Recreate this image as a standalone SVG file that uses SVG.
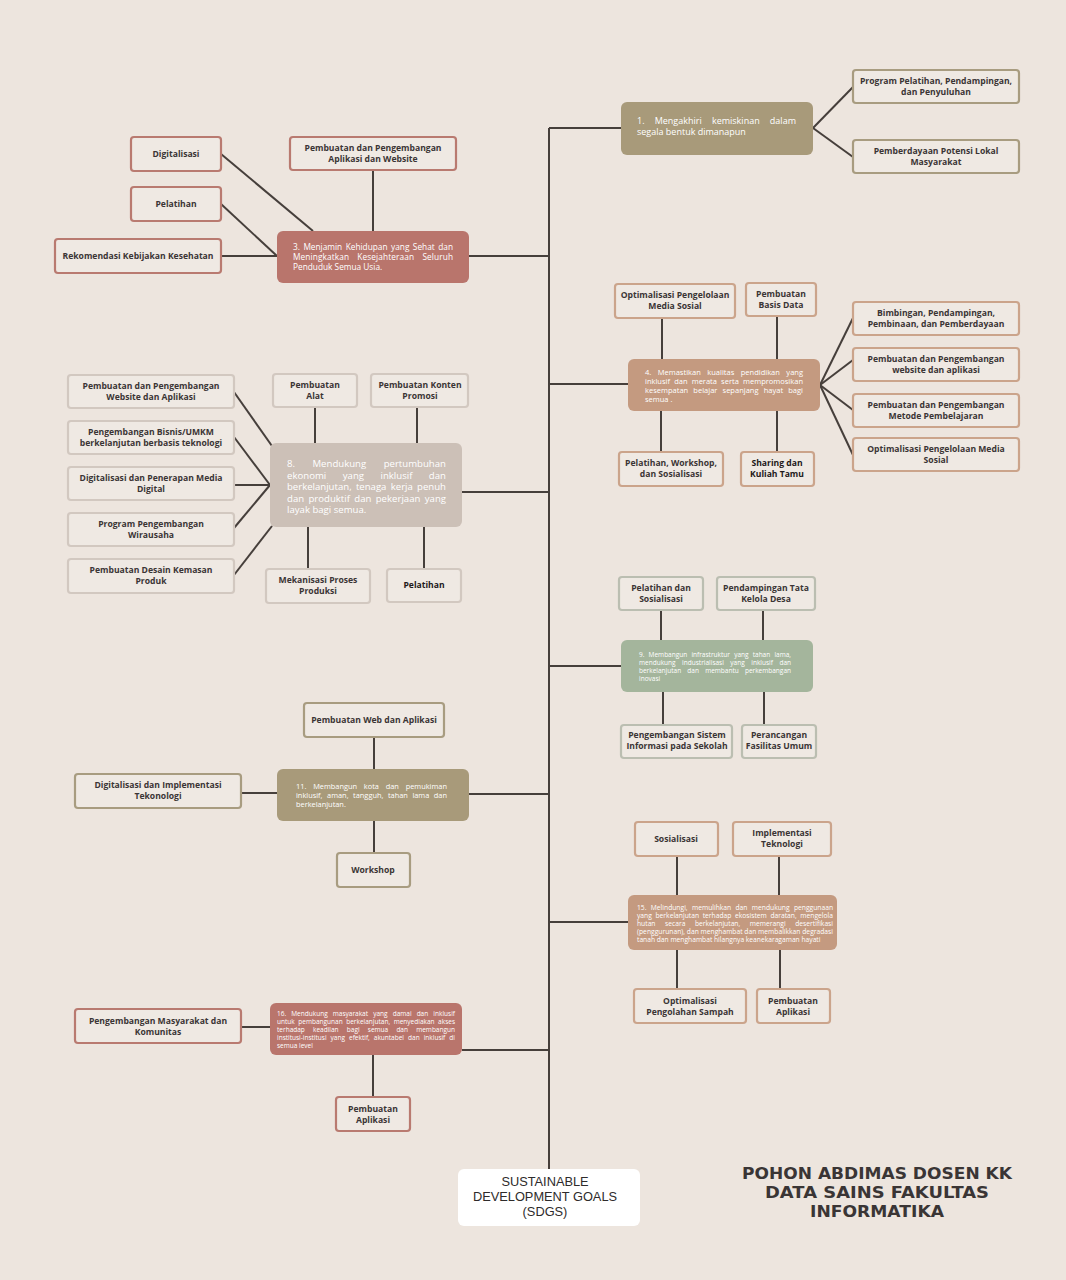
<svg xmlns="http://www.w3.org/2000/svg" width="1066" height="1280" viewBox="0 0 1066 1280">
<style>
.c{fill:#EFE9E3;stroke-width:2.2}
.k1{stroke:#A89C80}.k3{stroke:#B97A70}.k4{stroke:#CBA48B}.k8{stroke:#D2C8C0}.k9{stroke:#BBBEB1}
.ct{font-family:"Open Sans","Liberation Sans",sans-serif;font-weight:700;font-size:8.6px;fill:#3B3535;text-anchor:middle}
.dk{fill:#1E1A1A}
.nt{font-family:"Open Sans","Liberation Sans",sans-serif;fill:#FFFFFF}
.con line{stroke:#463F3B;stroke-width:2;fill:none}
</style>
<rect width="1066" height="1280" fill="#EDE5DE"/>
<g class="con">
<line x1="549" y1="128" x2="549" y2="1170"/>
<line x1="549" y1="128" x2="621" y2="128"/>
<line x1="469" y1="256" x2="549" y2="256"/>
<line x1="549" y1="384" x2="628" y2="384"/>
<line x1="462" y1="492" x2="549" y2="492"/>
<line x1="549" y1="666" x2="621" y2="666"/>
<line x1="469" y1="794" x2="549" y2="794"/>
<line x1="549" y1="922" x2="628" y2="922"/>
<line x1="462" y1="1050" x2="549" y2="1050"/>
<line x1="813" y1="128" x2="853" y2="87"/>
<line x1="813" y1="128" x2="853" y2="157"/>
<line x1="221" y1="154" x2="313" y2="231"/>
<line x1="221" y1="204" x2="277" y2="256"/>
<line x1="221" y1="256" x2="277" y2="256"/>
<line x1="373" y1="170" x2="373" y2="231"/>
<line x1="662" y1="318" x2="662" y2="359"/>
<line x1="777" y1="316" x2="777" y2="359"/>
<line x1="661" y1="411" x2="661" y2="452"/>
<line x1="777" y1="411" x2="777" y2="452"/>
<line x1="820" y1="385" x2="853" y2="318"/>
<line x1="820" y1="385" x2="853" y2="360"/>
<line x1="820" y1="385" x2="853" y2="410"/>
<line x1="820" y1="385" x2="853" y2="455"/>
<line x1="234" y1="392" x2="272" y2="446"/>
<line x1="234" y1="437" x2="270" y2="485"/>
<line x1="234" y1="485" x2="270" y2="485"/>
<line x1="234" y1="528" x2="270" y2="485"/>
<line x1="234" y1="575" x2="272" y2="526"/>
<line x1="315" y1="407" x2="315" y2="443"/>
<line x1="417" y1="407" x2="417" y2="443"/>
<line x1="308" y1="527" x2="308" y2="569"/>
<line x1="424" y1="527" x2="424" y2="569"/>
<line x1="661" y1="610" x2="661" y2="640"/>
<line x1="763" y1="610" x2="763" y2="640"/>
<line x1="663" y1="692" x2="663" y2="725"/>
<line x1="764" y1="692" x2="764" y2="725"/>
<line x1="374" y1="737" x2="374" y2="769"/>
<line x1="241" y1="793" x2="277" y2="793"/>
<line x1="374" y1="821" x2="374" y2="853"/>
<line x1="677" y1="856" x2="677" y2="895"/>
<line x1="779" y1="856" x2="779" y2="895"/>
<line x1="677" y1="950" x2="677" y2="989"/>
<line x1="780" y1="950" x2="780" y2="989"/>
<line x1="241" y1="1027" x2="270" y2="1027"/>
<line x1="373" y1="1055" x2="373" y2="1097"/>
</g>

<!-- Goal 1 -->
<g id="n1">
<rect x="621" y="102" width="192" height="53" rx="6" fill="#A89A7A"/>
<text class="nt" font-size="9"><tspan x="637" y="124" word-spacing="7.8" textLength="159" lengthAdjust="spacing">1. Mengakhiri kemiskinan dalam</tspan><tspan x="637" y="135">segala bentuk dimanapun</tspan></text>
</g>
<g id="n1a"><rect class="c k1" x="853" y="70" width="166" height="33" rx="3"/><text class="ct"><tspan x="936" y="84">Program Pelatihan, Pendampingan,</tspan><tspan x="936" y="95">dan Penyuluhan</tspan></text></g>
<g id="n1b"><rect class="c k1" x="853" y="140" width="166" height="33" rx="3"/><text class="ct"><tspan x="936" y="154">Pemberdayaan Potensi Lokal</tspan><tspan x="936" y="165">Masyarakat</tspan></text></g>

<!-- Goal 3 -->
<g id="n3">
<rect x="277" y="231" width="192" height="52" rx="6" fill="#B9756C"/>
<text class="nt" font-size="8.3"><tspan x="293" y="250" word-spacing="1.3" textLength="160" lengthAdjust="spacing">3. Menjamin Kehidupan yang Sehat dan</tspan><tspan x="293" y="260" word-spacing="5.9" textLength="160" lengthAdjust="spacing">Meningkatkan Kesejahteraan Seluruh</tspan><tspan x="293" y="270">Penduduk Semua Usia.</tspan></text>
</g>
<g id="n3a"><rect class="c k3" x="131" y="137" width="90" height="34" rx="3"/><text class="ct" x="176" y="157">Digitalisasi</text></g>
<g id="n3b"><rect class="c k3" x="131" y="187" width="90" height="34" rx="3"/><text class="ct" x="176" y="207">Pelatihan</text></g>
<g id="n3c"><rect class="c k3" x="55" y="239" width="166" height="34" rx="3"/><text class="ct" x="138" y="259">Rekomendasi Kebijakan Kesehatan</text></g>
<g id="n3d"><rect class="c k3" x="290" y="137" width="166" height="33" rx="3"/><text class="ct"><tspan x="373" y="151">Pembuatan dan Pengembangan</tspan><tspan x="373" y="162">Aplikasi dan Website</tspan></text></g>

<!-- Goal 4 -->
<g id="n4">
<rect x="628" y="359" width="192" height="52" rx="6" fill="#C49A80"/>
<text class="nt" font-size="7.5"><tspan x="645" y="375" word-spacing="4.5" textLength="158" lengthAdjust="spacing">4. Memastikan kualitas pendidikan yang</tspan><tspan x="645" y="384" word-spacing="2.2" textLength="158" lengthAdjust="spacing">inklusif dan merata serta mempromosikan</tspan><tspan x="645" y="393" word-spacing="3.2" textLength="158" lengthAdjust="spacing">kesempatan belajar sepanjang hayat bagi</tspan><tspan x="645" y="402">semua .</tspan></text>
</g>
<g id="n4a"><rect class="c k4" x="615" y="284" width="120" height="34" rx="3"/><text class="ct"><tspan x="675" y="298">Optimalisasi Pengelolaan</tspan><tspan x="675" y="309">Media Sosial</tspan></text></g>
<g id="n4b"><rect class="c k4" x="746" y="283" width="70" height="33" rx="3"/><text class="ct"><tspan x="781" y="297">Pembuatan</tspan><tspan x="781" y="308">Basis Data</tspan></text></g>
<g id="n4c"><rect class="c k4" x="619" y="452" width="104" height="34" rx="3"/><text class="ct"><tspan x="671" y="466">Pelatihan, Workshop,</tspan><tspan x="671" y="477">dan Sosialisasi</tspan></text></g>
<g id="n4d"><rect class="c k4" x="741" y="452" width="73" height="34" rx="3"/><text class="ct dk"><tspan x="777" y="466">Sharing dan</tspan><tspan x="777" y="477">Kuliah Tamu</tspan></text></g>
<g id="n4e"><rect class="c k4" x="853" y="302" width="166" height="33" rx="3"/><text class="ct"><tspan x="936" y="316">Bimbingan, Pendampingan,</tspan><tspan x="936" y="327">Pembinaan, dan Pemberdayaan</tspan></text></g>
<g id="n4f"><rect class="c k4" x="853" y="348" width="166" height="33" rx="3"/><text class="ct"><tspan x="936" y="362">Pembuatan dan Pengembangan</tspan><tspan x="936" y="373">website dan aplikasi</tspan></text></g>
<g id="n4g"><rect class="c k4" x="853" y="394" width="166" height="33" rx="3"/><text class="ct"><tspan x="936" y="408">Pembuatan dan Pengembangan</tspan><tspan x="936" y="419">Metode Pembelajaran</tspan></text></g>
<g id="n4h"><rect class="c k4" x="853" y="438" width="166" height="33" rx="3"/><text class="ct"><tspan x="936" y="452">Optimalisasi Pengelolaan Media</tspan><tspan x="936" y="463">Sosial</tspan></text></g>

<!-- Goal 8 -->
<g id="n8">
<rect x="270" y="443" width="192" height="84" rx="6" fill="#CCC0B7"/>
<text class="nt" font-size="9.6"><tspan x="287" y="467" word-spacing="14.9" textLength="159" lengthAdjust="spacing">8. Mendukung pertumbuhan</tspan><tspan x="287" y="479" word-spacing="13.9" textLength="159" lengthAdjust="spacing">ekonomi yang inklusif dan</tspan><tspan x="287" y="490" word-spacing="1.8" textLength="159" lengthAdjust="spacing">berkelanjutan, tenaga kerja penuh</tspan><tspan x="287" y="502" word-spacing="1.8" textLength="159" lengthAdjust="spacing">dan produktif dan pekerjaan yang</tspan><tspan x="287" y="513">layak bagi semua.</tspan></text>
</g>
<g id="n8a"><rect class="c k8" x="68" y="375" width="166" height="33" rx="3"/><text class="ct"><tspan x="151" y="389">Pembuatan dan Pengembangan</tspan><tspan x="151" y="400">Website dan Aplikasi</tspan></text></g>
<g id="n8b"><rect class="c k8" x="68" y="421" width="166" height="33" rx="3"/><text class="ct"><tspan x="151" y="435">Pengembangan Bisnis/UMKM</tspan><tspan x="151" y="446">berkelanjutan berbasis teknologi</tspan></text></g>
<g id="n8c"><rect class="c k8" x="68" y="467" width="166" height="33" rx="3"/><text class="ct"><tspan x="151" y="481">Digitalisasi dan Penerapan Media</tspan><tspan x="151" y="492">Digital</tspan></text></g>
<g id="n8d"><rect class="c k8" x="68" y="513" width="166" height="33" rx="3"/><text class="ct"><tspan x="151" y="527">Program Pengembangan</tspan><tspan x="151" y="538">Wirausaha</tspan></text></g>
<g id="n8e"><rect class="c k8" x="68" y="559" width="166" height="34" rx="3"/><text class="ct"><tspan x="151" y="573">Pembuatan Desain Kemasan</tspan><tspan x="151" y="584">Produk</tspan></text></g>
<g id="n8f"><rect class="c k8" x="273" y="374" width="84" height="33" rx="3"/><text class="ct"><tspan x="315" y="388">Pembuatan</tspan><tspan x="315" y="399">Alat</tspan></text></g>
<g id="n8g"><rect class="c k8" x="371" y="374" width="97" height="33" rx="3"/><text class="ct"><tspan x="420" y="388">Pembuatan Konten</tspan><tspan x="420" y="399">Promosi</tspan></text></g>
<g id="n8h"><rect class="c k8" x="266" y="569" width="104" height="34" rx="3"/><text class="ct"><tspan x="318" y="583">Mekanisasi Proses</tspan><tspan x="318" y="594">Produksi</tspan></text></g>
<g id="n8i"><rect class="c k8" x="387" y="569" width="74" height="33" rx="3"/><text class="ct dk" x="424" y="588">Pelatihan</text></g>

<!-- Goal 9 -->
<g id="n9">
<rect x="621" y="640" width="192" height="52" rx="6" fill="#A4B59C"/>
<text class="nt" font-size="6.5"><tspan x="639" y="657" word-spacing="2.5" textLength="152" lengthAdjust="spacing">9. Membangun infrastruktur yang tahan lama,</tspan><tspan x="639" y="665" word-spacing="4.8" textLength="152" lengthAdjust="spacing">mendukung industrialisasi yang inklusif dan</tspan><tspan x="639" y="673" word-spacing="4.5" textLength="152" lengthAdjust="spacing">berkelanjutan dan membantu perkembangan</tspan><tspan x="639" y="681">inovasi</tspan></text>
</g>
<g id="n9a"><rect class="c k9" x="619" y="577" width="84" height="33" rx="3"/><text class="ct"><tspan x="661" y="591">Pelatihan dan</tspan><tspan x="661" y="602">Sosialisasi</tspan></text></g>
<g id="n9b"><rect class="c k9" x="717" y="577" width="98" height="33" rx="3"/><text class="ct"><tspan x="766" y="591">Pendampingan Tata</tspan><tspan x="766" y="602">Kelola Desa</tspan></text></g>
<g id="n9c"><rect class="c k9" x="621" y="725" width="111" height="33" rx="3"/><text class="ct"><tspan x="677" y="738">Pengembangan Sistem</tspan><tspan x="677" y="749">Informasi pada Sekolah</tspan></text></g>
<g id="n9d"><rect class="c k9" x="742" y="725" width="74" height="33" rx="3"/><text class="ct"><tspan x="779" y="738">Perancangan</tspan><tspan x="779" y="749">Fasilitas Umum</tspan></text></g>

<!-- Goal 11 -->
<g id="n11">
<rect x="277" y="769" width="192" height="52" rx="6" fill="#A89A7A"/>
<text class="nt" font-size="7.4"><tspan x="296" y="789" word-spacing="4.8" textLength="151" lengthAdjust="spacing">11. Membangun kota dan pemukiman</tspan><tspan x="296" y="798" word-spacing="2.6" textLength="151" lengthAdjust="spacing">inklusif, aman, tangguh, tahan lama dan</tspan><tspan x="296" y="807">berkelanjutan.</tspan></text>
</g>
<g id="n11a"><rect class="c k1" x="304" y="703" width="140" height="34" rx="3"/><text class="ct" x="374" y="723">Pembuatan Web dan Aplikasi</text></g>
<g id="n11b"><rect class="c k1" x="75" y="774" width="166" height="34" rx="3"/><text class="ct"><tspan x="158" y="788">Digitalisasi dan Implementasi</tspan><tspan x="158" y="799">Tekonologi</tspan></text></g>
<g id="n11c"><rect class="c k1" x="337" y="853" width="73" height="34" rx="3"/><text class="ct" x="373" y="873">Workshop</text></g>

<!-- Goal 15 -->
<g id="n15">
<rect x="628" y="895" width="209" height="55" rx="6" fill="#C49A80"/>
<text class="nt" font-size="6.7"><tspan x="637" y="910" word-spacing="2.6" textLength="196" lengthAdjust="spacing">15. Melindungi, memulihkan dan mendukung penggunaan</tspan><tspan x="637" y="918" word-spacing="1.9" textLength="196" lengthAdjust="spacing">yang berkelanjutan terhadap ekosistem daratan, mengelola</tspan><tspan x="637" y="926" word-spacing="7.8" textLength="196" lengthAdjust="spacing">hutan secara berkelanjutan, memerangi desertifikasi</tspan><tspan x="637" y="934" textLength="196" lengthAdjust="spacing">(penggurunan), dan menghambat dan membalikkan degradasi</tspan><tspan x="637" y="942">tanah dan menghambat hilangnya keanekaragaman hayati</tspan></text>
</g>
<g id="n15a"><rect class="c k4" x="635" y="822" width="83" height="34" rx="3"/><text class="ct" x="676" y="842">Sosialisasi</text></g>
<g id="n15b"><rect class="c k4" x="733" y="822" width="98" height="34" rx="3"/><text class="ct"><tspan x="782" y="836">Implementasi</tspan><tspan x="782" y="847">Teknologi</tspan></text></g>
<g id="n15c"><rect class="c k4" x="634" y="989" width="112" height="34" rx="3"/><text class="ct"><tspan x="690" y="1004">Optimalisasi</tspan><tspan x="690" y="1015">Pengolahan Sampah</tspan></text></g>
<g id="n15d"><rect class="c k4" x="757" y="989" width="73" height="34" rx="3"/><text class="ct"><tspan x="793" y="1004">Pembuatan</tspan><tspan x="793" y="1015">Aplikasi</tspan></text></g>

<!-- Goal 16 -->
<g id="n16">
<rect x="270" y="1003" width="192" height="52" rx="6" fill="#B9756C"/>
<text class="nt" font-size="6.5"><tspan x="277" y="1016" word-spacing="3.4" textLength="178" lengthAdjust="spacing">16. Mendukung masyarakat yang damai dan inklusif</tspan><tspan x="277" y="1024" word-spacing="1.9" textLength="178" lengthAdjust="spacing">untuk pembangunan berkelanjutan, menyediakan akses</tspan><tspan x="277" y="1032" word-spacing="6.5" textLength="178" lengthAdjust="spacing">terhadap keadilan bagi semua dan membangun</tspan><tspan x="277" y="1040" word-spacing="2.4" textLength="178" lengthAdjust="spacing">institusi-institusi yang efektif, akuntabel dan inklusif di</tspan><tspan x="277" y="1048">semua level</tspan></text>
</g>
<g id="n16a"><rect class="c k3" x="75" y="1009" width="166" height="34" rx="3"/><text class="ct"><tspan x="158" y="1024">Pengembangan Masyarakat dan</tspan><tspan x="158" y="1035">Komunitas</tspan></text></g>
<g id="n16b"><rect class="c k3" x="336" y="1097" width="74" height="34" rx="3"/><text class="ct"><tspan x="373" y="1112">Pembuatan</tspan><tspan x="373" y="1123">Aplikasi</tspan></text></g>

<!-- Root -->
<g id="root">
<rect x="458" y="1169" width="182" height="57" rx="6" fill="#FFFFFF"/>
<text font-family="'Liberation Sans',Arial,sans-serif" font-size="12.8" fill="#2E2B2B" text-anchor="middle"><tspan x="545" y="1186">SUSTAINABLE</tspan><tspan x="545" y="1201">DEVELOPMENT GOALS</tspan><tspan x="545" y="1216">(SDGS)</tspan></text>
</g>

<g id="title">
<text font-family="'DejaVu Sans','Liberation Sans',sans-serif" font-weight="900" font-size="15.5" fill="#3A3535" text-anchor="middle"><tspan x="877" y="1179" textLength="270" lengthAdjust="spacingAndGlyphs">POHON ABDIMAS DOSEN KK</tspan><tspan x="877" y="1198" textLength="224" lengthAdjust="spacingAndGlyphs">DATA SAINS FAKULTAS</tspan><tspan x="877" y="1217" textLength="134" lengthAdjust="spacingAndGlyphs">INFORMATIKA</tspan></text>
</g>
</svg>
